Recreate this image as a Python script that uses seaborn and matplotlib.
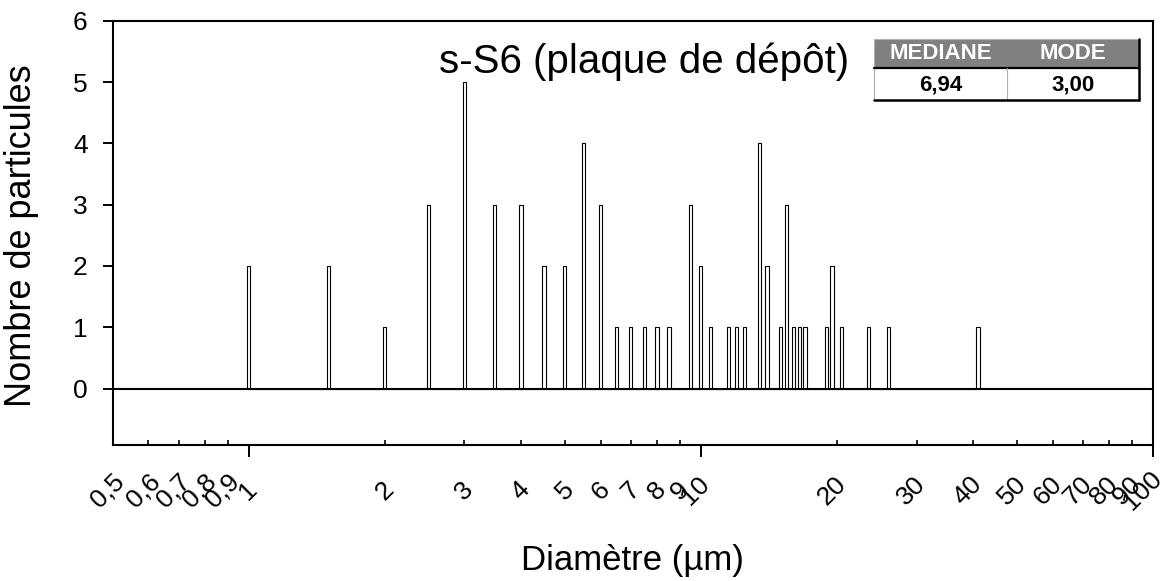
import numpy as np
import pandas as pd
import matplotlib
matplotlib.use("Agg")
import matplotlib.pyplot as plt
import matplotlib.transforms as mtransforms
from matplotlib.patches import Rectangle
from matplotlib.lines import Line2D
import seaborn as sns

# ---- data ----
diam = [1.0, 1.5, 2.0, 2.5, 3.0, 3.5, 4.0, 4.5, 5.0, 5.5, 6.0, 6.5, 7.0, 7.5, 8.0,
        8.5, 9.5, 10.0, 10.5, 11.5, 12.0, 12.5, 13.5, 14.0, 15.0, 15.5, 16.0, 16.5,
        17.0, 19.0, 19.5, 20.5, 23.5, 26.0, 41.0]
counts = [2, 2, 1, 3, 5, 3, 3, 2, 2, 4, 3, 1, 1, 1, 1,
          1, 3, 2, 1, 1, 1, 1, 4, 2, 1, 3, 1, 1,
          1, 1, 2, 1, 1, 1, 1]
major_ticks = [1, 10, 100]
major_labels = ["1", "10", "100"]
minor_ticks = [0.5, 0.6, 0.7, 0.8, 0.9, 2, 3, 4, 5, 6, 7, 8, 9,
               20, 30, 40, 50, 60, 70, 80, 90]
minor_labels = ["0,5", "0,6", "0,7", "0,8", "0,9", "2", "3", "4", "5", "6", "7", "8", "9",
                "20", "30", "40", "50", "60", "70", "80", "90"]
y_ticks = [0, 1, 2, 3, 4, 5, 6]
title = "s-S6 (plaque de dépôt)"
x_label = "Diamètre (µm)"
y_label = "Nombre de particules"
table_header = ["MEDIANE", "MODE"]
table_values = ["6,94", "3,00"]

df = pd.DataFrame({"diam": diam, "count": counts})

sns.set_theme(style="white")
plt.rcParams["font.family"] = ["Liberation Sans", "DejaVu Sans"]
plt.rcParams["text.color"] = "black"
plt.rcParams["xtick.color"] = "black"
plt.rcParams["ytick.color"] = "black"
plt.rcParams["xtick.labelcolor"] = "black"
plt.rcParams["ytick.labelcolor"] = "black"
plt.rcParams["axes.labelcolor"] = "black"

W, H = 1171, 581
fig = plt.figure(figsize=(W / 100, H / 100), dpi=100)
AX_L, AX_R, AX_T, AX_B = 112.6, 1153.0, 20.7, 445.0
ax = fig.add_axes([AX_L / W, 1 - AX_B / H, (AX_R - AX_L) / W, (AX_B - AX_T) / H])

# bins in log10 space: a narrow bin around each diameter
half = 0.0035
logd = np.log10(np.asarray(diam, dtype=float))
edges = [float(v) for v in np.sort(np.concatenate([logd - half, logd + half]))]
sns.histplot(data=df, x="diam", weights="count", bins=edges, log_scale=True,
             stat="count", element="bars", fill=True, color="white",
             edgecolor="black", linewidth=0.8, alpha=1, ax=ax)

ax.axhline(0, color="black", lw=1.5, zorder=3)
ax.set_xlim(0.5, 100)
ax.set_ylim(-0.92, 6.0)
ax.set_xlabel("")
ax.set_ylabel("")

ax.xaxis.set_major_locator(matplotlib.ticker.FixedLocator(major_ticks))
ax.xaxis.set_major_formatter(matplotlib.ticker.FixedFormatter(major_labels))
ax.xaxis.set_minor_locator(matplotlib.ticker.FixedLocator(minor_ticks))
ax.xaxis.set_minor_formatter(matplotlib.ticker.FixedFormatter(minor_labels))
ax.set_yticks(y_ticks)
ax.set_yticklabels([str(v) for v in y_ticks])

ax.tick_params(axis="x", which="major", direction="out", length=8.6, width=1.4,
               pad=24.5, labelsize=19, labelrotation=45, color="black",
               labelcolor="black", bottom=True)
ax.tick_params(axis="x", which="minor", direction="in", length=3.6, width=1.2,
               pad=33, labelsize=19, labelrotation=45, color="black",
               labelcolor="black", bottom=True)
ax.tick_params(axis="y", which="major", direction="out", length=7, width=1.4,
               pad=11, labelsize=19, color="black", labelcolor="black", left=True)
for lbl in ax.get_xticklabels(which="both"):
    lbl.set_ha("center")
    lbl.set_va("center")
    ndig = sum(ch.isdigit() for ch in lbl.get_text())
    dx = -5.0 * max(ndig - 1, 0) / 100.0
    lbl.set_transform(lbl.get_transform() + mtransforms.ScaledTranslation(dx, 0, fig.dpi_scale_trans))

for s in ax.spines.values():
    s.set_visible(True)
    s.set_color("black")
    s.set_linewidth(1.5)

# texts
fig.text(644 / W, 1 - 73 / H, title, ha="center", va="baseline", fontsize=29, color="black")
fig.text(632.5 / W, 1 - 570 / H, x_label, ha="center", va="baseline", fontsize=25, color="black")
fig.text(22 / W, 1 - 236 / H, y_label, ha="center", va="center", rotation=90, fontsize=26,
         color="black")

# summary table (pixel positions converted to figure fraction)
def fx(x):
    return x / W

def fy(y):
    return 1 - y / H

tl, tr, t_top, t_mid, t_bot, t_div = 874, 1139, 39, 68, 100, 1007
fig.add_artist(Rectangle((fx(tl), fy(t_mid)), fx(tr) - fx(tl), fy(t_top) - fy(t_mid),
                         transform=fig.transFigure, facecolor="#808080", edgecolor="#b0b0b0", lw=0.8))
fig.add_artist(Rectangle((fx(tl), fy(t_bot)), fx(tr) - fx(tl), fy(t_mid) - fy(t_bot),
                         transform=fig.transFigure, facecolor="white", edgecolor="#b0b0b0", lw=0.8))
fig.add_artist(Line2D([fx(tl), fx(tr)], [fy(t_mid), fy(t_mid)], transform=fig.transFigure,
                      color="black", lw=1.6))
fig.add_artist(Line2D([fx(t_div), fx(t_div)], [fy(t_mid), fy(t_bot)], transform=fig.transFigure,
                      color="#b0b0b0", lw=0.8))
fig.add_artist(Line2D([fx(tr), fx(tr)], [fy(t_top), fy(t_bot)], transform=fig.transFigure,
                      color="black", lw=1.8))
fig.add_artist(Line2D([fx(tl), fx(tr)], [fy(t_bot), fy(t_bot)], transform=fig.transFigure,
                      color="black", lw=1.8))
c1, c2 = (tl + t_div) / 2, (t_div + tr) / 2
fig.text(fx(c1), fy(53.5), table_header[0], ha="center", va="center", color="white",
         fontsize=16, fontweight="bold")
fig.text(fx(c2), fy(53.5), table_header[1], ha="center", va="center", color="white",
         fontsize=16, fontweight="bold")
fig.text(fx(c1), fy(85), table_values[0], ha="center", va="center", color="black",
         fontsize=16, fontweight="bold")
fig.text(fx(c2), fy(85), table_values[1], ha="center", va="center", color="black",
         fontsize=16, fontweight="bold")

fig.savefig("out.png", dpi=100, facecolor="white")
